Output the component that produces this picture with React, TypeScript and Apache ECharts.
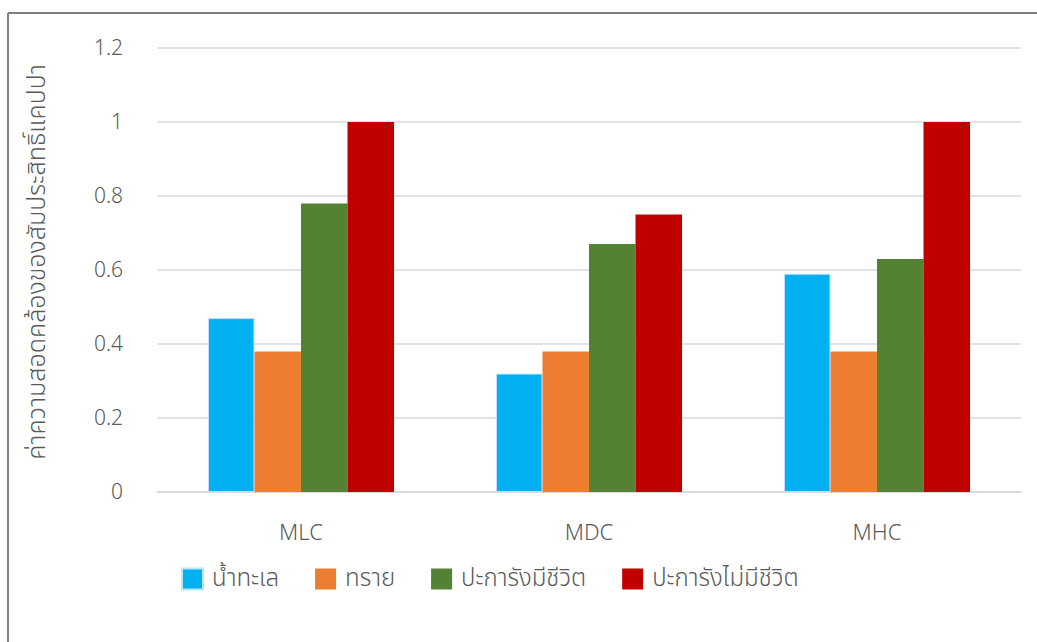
import React, { useEffect, useRef } from "react";
import * as echarts from "echarts";

const categories = ["MLC", "MDC", "MHC"];
const seriesNames = ["น้ำทะเล", "ทราย", "ปะการังมีชีวิต", "ปะการังไม่มีชีวิต"];
const seaWater = [0.47, 0.32, 0.59];
const sand = [0.38, 0.38, 0.38];
const liveCoral = [0.78, 0.67, 0.63];
const deadCoral = [1.0, 0.75, 1.0];
const colors = ["#00B0F0", "#ED7D31", "#548235", "#C00000"];
const yTitle = "ค่าความสอดคล้องของสัมประสิทธิ์แคปปา";

const FONT = "'Noto Sans Thai', 'Leelawadee UI', 'Segoe UI', 'Noto Sans', 'DejaVu Sans', sans-serif";
const TEXT = "#595959";

export default function App() {
  const ref = useRef<HTMLDivElement>(null);

  useEffect(() => {
    if (!ref.current) return;
    const chart = echarts.init(ref.current, undefined, { renderer: "svg" });
    const values = [seaWater, sand, liveCoral, deadCoral];
    chart.setOption({
      animation: false,
      backgroundColor: "#FFFFFF",
      textStyle: { fontFamily: FONT, fontWeight: 300 },
      grid: { left: 157, right: 16, top: 48, bottom: 150 },
      legend: {
        left: 176,
        top: 562,
        itemWidth: 21,
        itemHeight: 21,
        itemGap: 36,
        icon: "rect",
        textStyle: {
          fontSize: 24,
          color: TEXT,
          fontFamily: FONT,
          fontWeight: 300,
          padding: [0, 0, 0, 4],
        },
        data: seriesNames,
      },
      xAxis: {
        type: "category",
        data: categories,
        axisLine: { show: true, lineStyle: { color: "#D9D9D9", width: 1.5 } },
        axisTick: { show: false },
        axisLabel: { fontSize: 22, color: TEXT, margin: 30, fontFamily: FONT, fontWeight: 300 },
      },
      yAxis: {
        type: "value",
        min: 0,
        max: 1.2,
        interval: 0.2,
        name: yTitle,
        nameLocation: "middle",
        nameGap: 108,
        nameRotate: 90,
        nameTextStyle: {
          fontSize: 25,
          color: TEXT,
          fontFamily: FONT,
          fontWeight: 300,
          padding: [0, 0, 0, 16],
        },
        axisLine: { show: false },
        axisTick: { show: false },
        splitLine: { lineStyle: { color: "#D9D9D9", width: 1.5 } },
        axisLabel: {
          fontSize: 21,
          color: TEXT,
          margin: 34,
          fontFamily: FONT,
          fontWeight: 300,
          formatter: (v: number) => String(Math.round(v * 10) / 10),
        },
      },
      graphic: [
        {
          type: "line",
          shape: { x1: 8, y1: 13, x2: 1037, y2: 13 },
          style: { stroke: "#808080", lineWidth: 2 },
        },
        {
          type: "line",
          shape: { x1: 8, y1: 13, x2: 8, y2: 642 },
          style: { stroke: "#808080", lineWidth: 2 },
        },
      ],
      series: seriesNames.map((name, i) => ({
        name,
        type: "bar",
        data: values[i],
        barGap: "0%",
        barCategoryGap: "35.4%",
        itemStyle: {
          color: colors[i],
          borderColor: i === 0 ? "#B9E6FA" : colors[i],
          borderWidth: i === 0 ? 1 : 0,
        },
      })),
    });
    return () => chart.dispose();
  }, []);

  return (
    <div
      ref={ref}
      style={{ position: "fixed", left: 0, top: 0, width: 1037, height: 642 }}
    />
  );
}
